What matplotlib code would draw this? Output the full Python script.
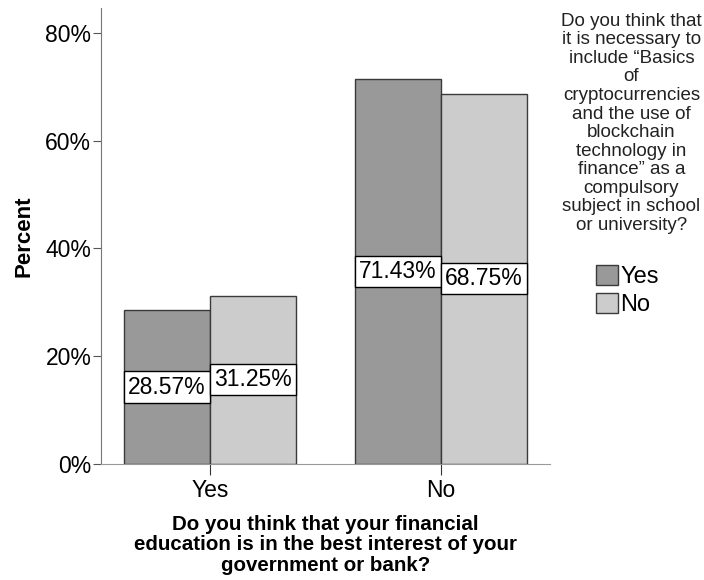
import matplotlib
matplotlib.use('agg')
import matplotlib.pyplot as plt
import numpy as np
from matplotlib.patches import Patch

# data
categories = ['Yes', 'No']
series_names = ['Yes', 'No']
pct_yes = [28.57, 71.43]
pct_no = [31.25, 68.75]
yticks = [0, 20, 40, 60, 80]

plt.rcParams['font.family'] = ['Liberation Sans', 'DejaVu Sans']

fig = plt.figure(figsize=(7.04, 5.8), dpi=100)
ax = fig.add_axes([0.1435, 0.2, 0.6375, 0.786])

x = np.arange(len(categories))
w = 0.372
dark = '#999999'
light = '#cccccc'
edge = '#3a3a3a'

b1 = ax.bar(x - w / 2, pct_yes, w, color=dark, edgecolor=edge, linewidth=1)
b2 = ax.bar(x + w / 2, pct_no, w, color=light, edgecolor=edge, linewidth=1)

box = dict(boxstyle='square,pad=0.18', facecolor='white', edgecolor='black', linewidth=1)
for bars in (b1, b2):
    ax.bar_label(bars, labels=['%.2f%%' % v for v in bars.datavalues], label_type='center',
                 fontsize=16.5, bbox=box)

ax.set_xlim(-0.472, 1.472)
ax.set_ylim(0, 84.6)
ax.set_yticks(yticks)
ax.set_yticklabels(['%d%%' % t for t in yticks], fontsize=16.5)
ax.set_xticks(x)
ax.set_xticklabels(categories, fontsize=16.5)
ax.tick_params(axis='y', length=6, color='#555555', pad=1)
ax.tick_params(axis='x', length=8, color='#333333', pad=3)

for s in ('top', 'right'):
    ax.spines[s].set_visible(False)
ax.spines['left'].set_color('#777777')
ax.spines['bottom'].set_color('#999999')

ax.set_ylabel('Percent', fontsize=16, fontweight='bold', labelpad=8)
ax.set_xlabel('Do you think that your financial\neducation is in the best interest of your\ngovernment or bank?',
              fontsize=14.8, fontweight='bold', linespacing=1.1, labelpad=9)

fig.text(0.897, 0.978, 'Do you think that\nit is necessary to\ninclude \u201cBasics\nof\ncryptocurrencies\n'
         'and the use of\nblockchain\ntechnology in\nfinance\u201d as a\ncompulsory\nsubject in school\n'
         'or university?', ha='center', va='top', fontsize=13.5, color='#222222', linespacing=1.12)

handles = [Patch(facecolor=dark, edgecolor=edge), Patch(facecolor=light, edgecolor=edge)]
fig.legend(handles, series_names, loc='upper left', bbox_to_anchor=(0.846, 0.543), frameon=False,
           fontsize=17, handlelength=0.95, handleheight=0.95, handletextpad=0.1, labelspacing=0.2,
           borderpad=0, borderaxespad=0)

fig.savefig('out.png', dpi=100)
